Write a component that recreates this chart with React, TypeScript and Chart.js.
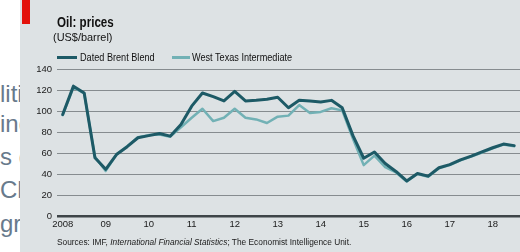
import React, { useEffect, useRef } from "react";
import { Chart, registerables } from "chart.js";
Chart.register(...registerables);

const quarters = [
  "2008Q1","2008Q2","2008Q3","2008Q4",
  "2009Q1","2009Q2","2009Q3","2009Q4",
  "2010Q1","2010Q2","2010Q3","2010Q4",
  "2011Q1","2011Q2","2011Q3","2011Q4",
  "2012Q1","2012Q2","2012Q3","2012Q4",
  "2013Q1","2013Q2","2013Q3","2013Q4",
  "2014Q1","2014Q2","2014Q3","2014Q4",
  "2015Q1","2015Q2","2015Q3","2015Q4",
  "2016Q1","2016Q2","2016Q3","2016Q4",
  "2017Q1","2017Q2","2017Q3","2017Q4",
  "2018Q1","2018Q2","2018Q3",
];

const brent = [
  97, 124, 117.5, 56,
  45, 59, 66.5, 75,
  77, 79, 76.5, 87.5,
  105, 117.5, 114, 110,
  119, 110, 110.5, 111.5,
  113.5, 103.5, 110.5, 109.8,
  109, 110.5, 103.5, 77,
  55.5, 61.5, 50.5, 43,
  34, 41, 38.5, 46.5,
  49.5, 54, 57.5, 61.5,
  65.5, 69, 67.5,
];

const wti = [
  96.5, 123, 117, 57,
  43.5, 59, 67, 75.5,
  77.5, 78, 76, 85,
  94, 102.5, 90.8, 94,
  102.5, 94, 92.4, 89,
  95, 96, 106, 98.5,
  99.5, 103, 101, 74,
  49, 58, 47, 42,
  33.5, 40.5, 38, 46,
  49, 53.5, 57, 61,
  65, 68.5, 67,
];

const seriesNames = ["Dated Brent Blend", "West Texas Intermediate"];
const seriesColors = ["#1d5a66", "#72b1b5"];
const tickQuarters = ["2008Q1","2009Q1","2010Q1","2011Q1","2012Q1","2013Q1","2014Q1","2015Q1","2016Q1","2017Q1","2018Q1"];
const xTickLabels = ["2008","09","10","11","12","13","14","15","16","17","18"];
const yTicks = [0, 20, 40, 60, 80, 100, 120, 140];

const sans = '"Liberation Sans", Arial, sans-serif';

const squeeze = (k: number): React.CSSProperties => ({ transform: `scaleX(${k})`, transformOrigin: "0 0" });

export default function App() {
  const ref = useRef<HTMLCanvasElement | null>(null);

  useEffect(() => {
    if (!ref.current) return;
    const tickIdx = tickQuarters.map((q) => quarters.indexOf(q));
    const chart = new Chart(ref.current, {
      type: "line",
      data: {
        datasets: [
          {
            label: seriesNames[0],
            data: brent.map((v, i) => ({ x: i, y: v })),
            borderColor: seriesColors[0],
            borderWidth: 3,
            pointRadius: 0,
            tension: 0,
            borderJoinStyle: "round",
            borderCapStyle: "round",
          },
          {
            label: seriesNames[1],
            data: wti.map((v, i) => ({ x: i, y: v })),
            borderColor: seriesColors[1],
            borderWidth: 2.5,
            pointRadius: 0,
            tension: 0,
            borderJoinStyle: "round",
            borderCapStyle: "round",
          },
        ],
      },
      options: {
        animation: false,
        responsive: false,
        devicePixelRatio: 1,
        layout: { padding: { top: 69.3, left: 0, right: 0, bottom: 0 } },
        plugins: { legend: { display: false }, tooltip: { enabled: false }, title: { display: false } },
        scales: {
          x: {
            type: "linear",
            min: -0.53,
            max: 42.54,
            grid: { display: false, drawTicks: false },
            border: { display: false },
            afterBuildTicks: (scale: any) => {
              scale.ticks = tickIdx.map((v) => ({ value: v }));
            },
            afterFit: (scale: any) => {
              scale.height = 35.3;
            },
            ticks: {
              autoSkip: false,
              maxRotation: 0,
              padding: 2,
              color: "#1a1a1a",
              font: { family: sans, size: 9.5 },
              callback: (value: any) => {
                const k = tickIdx.indexOf(Number(value));
                return k >= 0 ? xTickLabels[k] : "";
              },
            },
          },
          y: {
            min: 0,
            max: 140,
            afterBuildTicks: (scale: any) => {
              scale.ticks = yTicks.map((v) => ({ value: v }));
            },
            afterFit: (scale: any) => {
              scale.width = 37;
            },
            border: { display: false },
            grid: {
              drawTicks: false,
              color: (c: any) => (c.tick && c.tick.value === 0 ? "#3e4548" : "#868c8f"),
              lineWidth: (c: any) => (c.tick && c.tick.value === 0 ? 2.5 : 1),
            },
            ticks: {
              padding: 5,
              color: "#1a1a1a",
              font: { family: sans, size: 9.5 },
            },
          },
        },
      },
    });
    return () => chart.destroy();
  }, []);

  const sideWords = [
    { t: "liti", top: 82 },
    { t: "ing", top: 112 },
    { t: "s d", top: 145 },
    { t: "Ch", top: 178 },
    { t: "gr", top: 212 },
  ];

  return (
    <div style={{ position: "fixed", left: 0, top: 0, width: 520, height: 252, overflow: "hidden", background: "#ffffff" }}>
      {sideWords.map((w, i) => (
        <div key={i} style={{ position: "absolute", left: 0, top: w.top, fontFamily: sans, fontSize: 24, lineHeight: "24px", color: "#687a8c", whiteSpace: "pre" }}>
          {w.t}
        </div>
      ))}
      <div style={{ position: "absolute", left: 20, top: 0, width: 500, height: 252, background: "#dde2e4" }} />
      <div style={{ position: "absolute", left: 22, top: 0, width: 8, height: 24, background: "#e3120b" }} />
      <canvas ref={ref} width={500} height={252} style={{ position: "absolute", left: 20, top: 0, width: 500, height: 252 }} />
      <div style={{ position: "absolute", left: 57, top: 15, fontFamily: sans, fontWeight: 700, fontSize: 14.5, lineHeight: "14px", color: "#111", whiteSpace: "pre", ...squeeze(0.8) }}>
        Oil: prices
      </div>
      <div style={{ position: "absolute", left: 53, top: 31.5, fontFamily: sans, fontSize: 11.5, lineHeight: "11px", color: "#111", whiteSpace: "pre", ...squeeze(0.95) }}>
        (US$/barrel)
      </div>
      <div style={{ position: "absolute", left: 57, top: 56, width: 20, height: 3, background: seriesColors[0] }} />
      <div style={{ position: "absolute", left: 80, top: 52, fontFamily: sans, fontSize: 11, lineHeight: "11px", color: "#111", whiteSpace: "pre", ...squeeze(0.83) }}>
        {seriesNames[0]}
      </div>
      <div style={{ position: "absolute", left: 172, top: 56, width: 18, height: 3, background: seriesColors[1] }} />
      <div style={{ position: "absolute", left: 192, top: 52, fontFamily: sans, fontSize: 11, lineHeight: "11px", color: "#111", whiteSpace: "pre", ...squeeze(0.83) }}>
        {seriesNames[1]}
      </div>
      <div style={{ position: "absolute", left: 57, top: 237.5, fontFamily: sans, fontSize: 8.5, lineHeight: "8.5px", color: "#1a1a1a", whiteSpace: "pre", ...squeeze(0.98) }}>
        Sources: IMF, <i>International Financial Statistics</i>; The Economist Intelligence Unit.
      </div>
    </div>
  );
}
